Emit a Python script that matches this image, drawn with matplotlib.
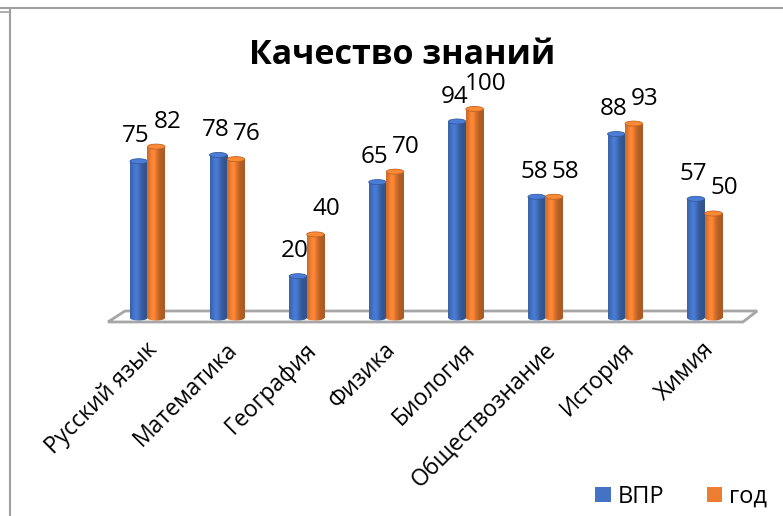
import numpy as np
import matplotlib.pyplot as plt
from matplotlib.patches import Ellipse, Polygon, Patch
from matplotlib.lines import Line2D
from matplotlib.colors import to_rgb

# data
subjects = ['Русский язык', 'Математика', 'География', 'Физика',
            'Биология', 'Обществознание', 'История', 'Химия']
vpr = [75, 78, 20, 65, 94, 58, 88, 57]
god = [82, 76, 40, 70, 100, 58, 93, 50]
series_names = ['ВПР', 'год']

plt.rcParams['font.family'] = ['Open Sans', 'DejaVu Sans']

fig = plt.figure(figsize=(7.83, 5.16), dpi=100)
ax = fig.add_axes([0.0867, 0.3432, 0.9149, 0.5469])
ax.set_xlim(-1, 8)
ax.set_ylim(-10, 125)
ax.axis('off')

x = np.arange(len(subjects))
w = 0.22
cap = 2.4  # ellipse height of the cylinder ends (data units)

blue = '#4472c4'
orange = '#ed7d31'


def shade(base, n=64):
    # horizontal gradient: dark edge -> highlight -> dark edge
    b = np.array(to_rgb(base))
    t = np.linspace(0, 1, n)
    k = 0.82 + 0.3 * np.exp(-((t - 0.35) / 0.25) ** 2) - 0.1 * t
    img = np.clip(b[None, :] * k[:, None], 0, 1)
    return img[None, :, :]


# floor plate
floor = Polygon([(-0.496, -1.9), (7.48, -1.9), (7.66, 3.35), (-0.283, 3.35)],
                closed=True, facecolor='white', edgecolor='#a6a6a6', lw=2, zorder=1)
ax.add_patch(floor)


def cylinders(xs, vals, color, dx, zorder):
    bars = ax.bar(xs, vals, width=w, color='none', edgecolor='none', zorder=zorder)
    grad = shade(color)
    light = np.clip(np.array(to_rgb(color)) * 1.1, 0, 1)
    for b, v in zip(bars, vals):
        x0 = b.get_x()
        # body
        im = ax.imshow(grad, extent=[x0, x0 + w, 0, v], aspect='auto',
                       interpolation='bilinear', zorder=zorder)
        im.set_clip_path(b)
        # rounded bottom
        bot = Ellipse((x0 + w / 2, 0), w, cap, facecolor='none', edgecolor='none',
                      zorder=zorder)
        ax.add_patch(bot)
        im2 = ax.imshow(grad, extent=[x0, x0 + w, -cap, 0], aspect='auto',
                        interpolation='bilinear', zorder=zorder)
        im2.set_clip_path(bot)
        # top cap
        ax.add_patch(Ellipse((x0 + w / 2, v), w, cap, facecolor=light,
                             edgecolor=np.array(to_rgb(color)) * 0.8, lw=0.6,
                             zorder=zorder + 0.1))
        ax.annotate(str(v), (x0 + w / 2, v), xytext=(dx, 18),
                    textcoords='offset points', ha='center', va='center',
                    fontsize=17.5, color='black', zorder=5)


cylinders(x - 0.11, vpr, blue, -2, 2)
cylinders(x + 0.11, god, orange, 8, 3)

# category labels
for xi, s in zip(x, subjects):
    ax.text(xi + 0.08, -13.5, s, rotation=45, rotation_mode='anchor',
            ha='right', va='center', fontsize=16.5, color='black')

fig.text(0.514, 0.893, 'Качество знаний', ha='center', va='center',
         fontsize=24.5, fontweight='bold')

handles = [Patch(facecolor=blue), Patch(facecolor=orange)]
fig.legend(handles, series_names, loc='center right', bbox_to_anchor=(0.998, 0.037),
           ncol=2, frameon=False, fontsize=17, handlelength=0.65, handleheight=0.65,
           handletextpad=0.3, columnspacing=1.8, borderaxespad=0.2)

# outer frame lines
fig.add_artist(Line2D([0, 1], [1 - 8 / 516, 1 - 8 / 516], color='#a0a0a0', lw=1.5))
fig.add_artist(Line2D([10 / 783, 10 / 783], [0, 1 - 8 / 516], color='#a0a0a0', lw=1.5))
fig.add_artist(Line2D([0, 10 / 783], [1 - 12 / 516, 1 - 12 / 516], color='#a0a0a0', lw=1.2))

fig.savefig('out.png', dpi=100)
